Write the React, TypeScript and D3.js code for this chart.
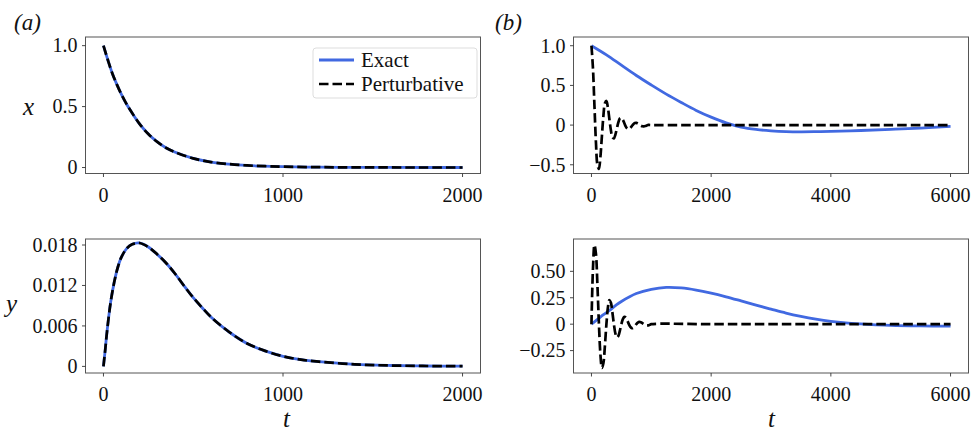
import React from "react";
import * as d3 from "d3";

// ---- data ----
// (a) left column, t in [0, 2000]
const tA = [0, 25, 50, 75, 100, 125, 150, 200, 250, 300, 350, 400, 500, 600, 700, 800, 900, 1000, 1200, 1400, 1600, 1800, 2000];
const xA = [1.0, 0.88, 0.77, 0.68, 0.6, 0.53, 0.47, 0.36, 0.275, 0.21, 0.16, 0.125, 0.075, 0.045, 0.028, 0.017, 0.011, 0.007, 0.003, 0.0012, 0.0005, 0.0002, 0.0001];
const tAy = [0, 10, 20, 40, 60, 80, 100, 130, 160, 200, 250, 300, 350, 400, 450, 500, 550, 600, 700, 800, 900, 1000, 1100, 1200, 1400, 1600, 1800, 2000];
const yA = [0, 0.0025, 0.0052, 0.0095, 0.0125, 0.0147, 0.0162, 0.0175, 0.0181, 0.0183, 0.0177, 0.0166, 0.0153, 0.0137, 0.0119, 0.0102, 0.0087, 0.0073, 0.0051, 0.0034, 0.0023, 0.0015, 0.001, 0.0007, 0.0003, 0.00013, 0.00006, 0.00003];

// (b) right column, t in [0, 6000]
const tBexact = [0, 250, 500, 750, 1000, 1250, 1500, 1750, 2000, 2250, 2500, 2750, 3000, 3250, 3500, 3750, 4000, 4500, 5000, 5500, 6000];
const xBexact = [1.0, 0.885, 0.755, 0.625, 0.505, 0.39, 0.285, 0.185, 0.1, 0.028, -0.025, -0.055, -0.072, -0.082, -0.085, -0.083, -0.079, -0.068, -0.054, -0.037, -0.015];
const tByExact = [0, 100, 200, 300, 400, 500, 750, 1000, 1250, 1500, 1750, 2000, 2250, 2500, 2750, 3000, 3250, 3500, 3750, 4000, 4250, 4500, 4750, 5000, 5500, 6000];
const yBexact = [0, 0.045, 0.09, 0.13, 0.175, 0.215, 0.29, 0.33, 0.348, 0.343, 0.323, 0.294, 0.259, 0.22, 0.18, 0.142, 0.105, 0.074, 0.048, 0.027, 0.012, 0.002, -0.006, -0.012, -0.017, -0.019];

const tBpert = [0, 25, 50, 75, 100, 125, 150, 175, 200, 225, 250, 275, 300, 325, 350, 375, 400, 425, 450, 475, 500, 525, 550, 575, 600, 625, 650, 675, 700, 725, 750, 775, 800, 825, 850, 875, 900, 925, 950, 975, 1000, 2000, 3000, 4000, 5000, 6000];
const xBpert = [1.0, 0.718, 0.244, -0.216, -0.503, -0.551, -0.396, -0.134, 0.119, 0.277, 0.304, 0.218, 0.074, -0.066, -0.153, -0.168, -0.12, -0.041, 0.036, 0.084, 0.092, 0.066, 0.023, -0.02, -0.046, -0.051, -0.036, -0.012, 0.011, 0.026, 0.028, 0.02, 0.007, -0.006, -0.014, -0.015, -0.011, -0.004, 0.002, 0.001, 0, 0, 0, 0, 0, 0];
const yBpert = [0, 0.522, 0.749, 0.666, 0.365, 0, -0.288, -0.414, -0.367, -0.202, 0, 0.159, 0.228, 0.203, 0.111, 0, -0.088, -0.126, -0.111, -0.061, 0, 0.048, 0.069, 0.062, 0.034, 0, -0.026, -0.038, -0.034, -0.019, 0, 0.015, 0.021, 0.018, 0.01, 0, -0.008, -0.012, -0.011, -0.006, 0, 0, 0, 0, 0, 0];

// axis limits and ticks
const xlimA = [-100, 2100];
const xlimB = [-300, 6300];
const xticksA = [0, 1000, 2000];
const xticksB = [0, 2000, 4000, 6000];
const ylimTL = [-0.049, 1.071];
const ylimBL = [-0.00098, 0.01889];
const ylimTR = [-0.61, 1.11];
const ylimBR = [-0.462, 0.806];
const yticksTL = [0, 0.5, 1.0];
const yticksBL = [0, 0.006, 0.012, 0.018];
const yticksTR = [-0.5, 0, 0.5, 1.0];
const yticksBR = [-0.25, 0, 0.25, 0.5];
const ytickLabelsTL = ["0", "0.5", "1.0"];
const ytickLabelsBL = ["0", "0.006", "0.012", "0.018"];
const ytickLabelsTR = ["\u22120.5", "0", "0.5", "1.0"];
const ytickLabelsBR = ["\u22120.25", "0", "0.25", "0.50"];

const seriesNames = ["Exact", "Perturbative"];

const BLUE = "#4169e1";
const FONT = "'Liberation Serif', 'DejaVu Serif', serif";
const TICK_FS = 20;

type Series = { t: number[]; v: number[] };

type PanelProps = {
  left: number; top: number; width: number; height: number;
  xlim: number[]; ylim: number[];
  xticks: number[]; yticks: number[]; ylabels: string[];
  exact: Series; pert: Series;
  legend?: boolean;
};

function Panel(p: PanelProps) {
  const x = d3.scaleLinear().domain(p.xlim).range([p.left, p.left + p.width]);
  const y = d3.scaleLinear().domain(p.ylim).range([p.top + p.height, p.top]);
  const bottom = p.top + p.height;
  const mk = (s: Series) =>
    d3.line<number>()
      .x((_, i) => x(s.t[i]))
      .y((d) => y(d))
      .curve(d3.curveCatmullRom.alpha(0.5))(s.v) || "";
  const clipId = `clip-${p.left}-${p.top}`;

  return (
    <g>
      <clipPath id={clipId}>
        <rect x={p.left} y={p.top} width={p.width} height={p.height} />
      </clipPath>
      <g clipPath={`url(#${clipId})`}>
        <path d={mk(p.exact)} fill="none" stroke={BLUE} strokeWidth={2.8} />
        <path d={mk(p.pert)} fill="none" stroke="#000" strokeWidth={2.7} strokeDasharray="9.5,4" />
      </g>
      <rect x={p.left} y={p.top} width={p.width} height={p.height} fill="none" stroke="#555" strokeWidth={1} />
      {p.xticks.map((t) => (
        <g key={"x" + t}>
          <line x1={x(t)} x2={x(t)} y1={bottom} y2={bottom + 3.5} stroke="#333" strokeWidth={0.9} />
          <text x={x(t)} y={bottom + 28} textAnchor="middle" fontSize={TICK_FS} fontFamily={FONT} fill="#111">{t}</text>
        </g>
      ))}
      {p.yticks.map((v, i) => (
        <g key={"y" + v}>
          <line x1={p.left - 3.5} x2={p.left} y1={y(v)} y2={y(v)} stroke="#333" strokeWidth={0.9} />
          <text x={p.left - 8} y={y(v)} dy="0.34em" textAnchor="end" fontSize={TICK_FS} fontFamily={FONT} fill="#111">{p.ylabels[i]}</text>
        </g>
      ))}
      {p.legend && (
        <g>
          <rect x={313} y={48} width={164} height={50} rx={3} fill="#fff" fillOpacity={0.8} stroke="#ddd" strokeWidth={1} />
          <line x1={319} x2={354} y1={60} y2={60} stroke={BLUE} strokeWidth={2.8} />
          <text x={361} y={66.5} fontSize={21} fontFamily={FONT} fill="#111">{seriesNames[0]}</text>
          <line x1={319} x2={354} y1={84} y2={84} stroke="#000" strokeWidth={2.7} strokeDasharray="9.5,4" />
          <text x={361} y={90.5} fontSize={21} fontFamily={FONT} fill="#111">{seriesNames[1]}</text>
        </g>
      )}
    </g>
  );
}

export default function App() {
  const wL = 395, wR = 395, hT = 136.5, hB = 134;
  return (
    <svg width={979} height={433} style={{ position: "absolute", left: 0, top: 0, background: "#fff" }}>
      <rect width={979} height={433} fill="#fff" />
      <Panel left={85.5} top={37} width={wL} height={hT} xlim={xlimA} ylim={ylimTL}
        xticks={xticksA} yticks={yticksTL} ylabels={ytickLabelsTL}
        exact={{ t: tA, v: xA }} pert={{ t: tA, v: xA }} legend />
      <Panel left={85.5} top={239} width={wL} height={hB} xlim={xlimA} ylim={ylimBL}
        xticks={xticksA} yticks={yticksBL} ylabels={ytickLabelsBL}
        exact={{ t: tAy, v: yA }} pert={{ t: tAy, v: yA }} />
      <Panel left={573.5} top={37} width={wR} height={hT} xlim={xlimB} ylim={ylimTR}
        xticks={xticksB} yticks={yticksTR} ylabels={ytickLabelsTR}
        exact={{ t: tBexact, v: xBexact }} pert={{ t: tBpert, v: xBpert }} />
      <Panel left={573.5} top={239} width={wR} height={hB} xlim={xlimB} ylim={ylimBR}
        xticks={xticksB} yticks={yticksBR} ylabels={ytickLabelsBR}
        exact={{ t: tByExact, v: yBexact }} pert={{ t: tBpert, v: yBpert }} />
      {/* panel tags and axis labels */}
      <text x={14} y={30} fontSize={23} fontStyle="italic" fontFamily={FONT} fill="#111">(a)</text>
      <text x={495} y={30} fontSize={23} fontStyle="italic" fontFamily={FONT} fill="#111">(b)</text>
      <text x={23} y={115} fontSize={25} fontStyle="italic" fontFamily={FONT} fill="#111">x</text>
      <text x={6} y={312} fontSize={25} fontStyle="italic" fontFamily={FONT} fill="#111">y</text>
      <text x={283} y={427} fontSize={25} fontStyle="italic" fontFamily={FONT} fill="#111">t</text>
      <text x={768} y={427} fontSize={25} fontStyle="italic" fontFamily={FONT} fill="#111">t</text>
    </svg>
  );
}
